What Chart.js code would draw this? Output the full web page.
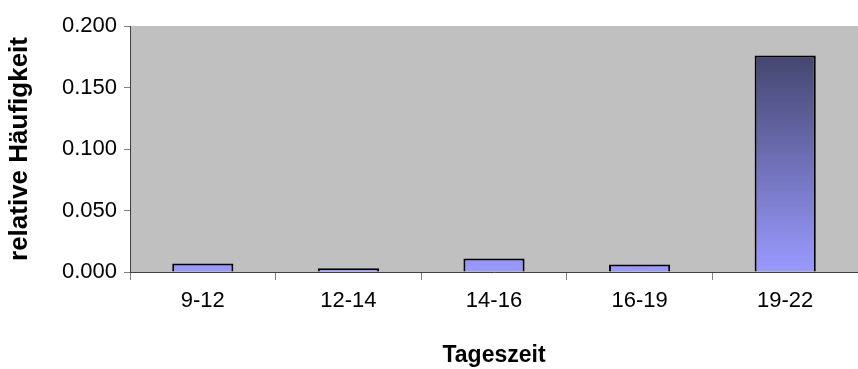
<!DOCTYPE html>
<html>
<head>
<meta charset="utf-8">
<script src="https://cdn.jsdelivr.net/npm/chart.js@4"></script>
<style>
  html, body { margin: 0; padding: 0; background: #fff; }
  #wrap { width: 858px; height: 369px; }
</style>
</head>
<body>
<div id="wrap"><canvas id="chart"></canvas></div>
<script>
const categories = ['9-12', '12-14', '14-16', '16-19', '19-22']
const frequencies = [0.007, 0.003, 0.011, 0.006, 0.176]
const yTicks = [0, 0.05, 0.1, 0.15, 0.2]

// gray plot background like the spreadsheet chart
const plotBackground = {
  id: 'plotBackground',
  beforeDraw(chart) {
    const { ctx, chartArea } = chart
    ctx.save()
    ctx.fillStyle = '#c0c0c0'
    ctx.fillRect(chartArea.left, chartArea.top, chartArea.right - chartArea.left, chartArea.bottom - chartArea.top)
    ctx.restore()
  }
}

// vertical gradient inside every bar, dark at the top
const barGradient = {
  id: 'barGradient',
  beforeDatasetsDraw(chart) {
    const ctx = chart.ctx
    chart.getDatasetMeta(0).data.forEach((bar) => {
      const g = ctx.createLinearGradient(0, bar.y, 0, bar.base)
      g.addColorStop(0, '#44466f')
      g.addColorStop(1, '#9a9aff')
      bar.options.backgroundColor = g
    })
  }
}

const font = 'Liberation Sans, Arial'

const ctx = document.getElementById('chart')
new Chart(ctx, {
  type: 'bar',
  data: {
    labels: categories,
    datasets: [{
      data: frequencies,
      backgroundColor: '#9a9aff',
      borderColor: '#000',
      borderWidth: 2,
      barPercentage: 0.42,
      categoryPercentage: 1
    }]
  },
  options: {
    responsive: true,
    maintainAspectRatio: false,
    animation: false,
    layout: { padding: { top: 26, right: 0, bottom: 0, left: 0 } },
    plugins: { legend: { display: false }, tooltip: { enabled: false } },
    scales: {
      x: {
        grid: { offset: true, drawOnChartArea: false, drawTicks: true, tickLength: 8, color: '#808080' },
        border: { color: '#404040', width: 1 },
        ticks: { color: '#000', padding: 8, font: { family: font, size: 22 } },
        title: {
          display: true, text: 'Tageszeit', color: '#000',
          font: { family: font, size: 23, weight: 'bold', lineHeight: 1 },
          padding: { top: 0, bottom: 2 }
        },
        afterFit(scale) { scale.height = 97 }
      },
      y: {
        min: 0,
        max: 0.2,
        afterBuildTicks(scale) { scale.ticks = yTicks.map((v) => ({ value: v })) },
        grid: { drawOnChartArea: false, drawTicks: true, tickLength: 6, color: '#808080' },
        border: { color: '#404040', width: 1 },
        ticks: {
          color: '#000', padding: 7,
          font: { family: font, size: 22 },
          callback: (v) => Number(v).toFixed(3)
        },
        title: {
          display: true, text: 'relative Häufigkeit', color: '#000',
          font: { family: font, size: 26, weight: 'bold', lineHeight: 1 },
          padding: { top: 7, bottom: 0 }
        },
        afterFit(scale) { scale.width = 130 }
      }
    }
  },
  plugins: [plotBackground, barGradient]
})
</script>
</body>
</html>
